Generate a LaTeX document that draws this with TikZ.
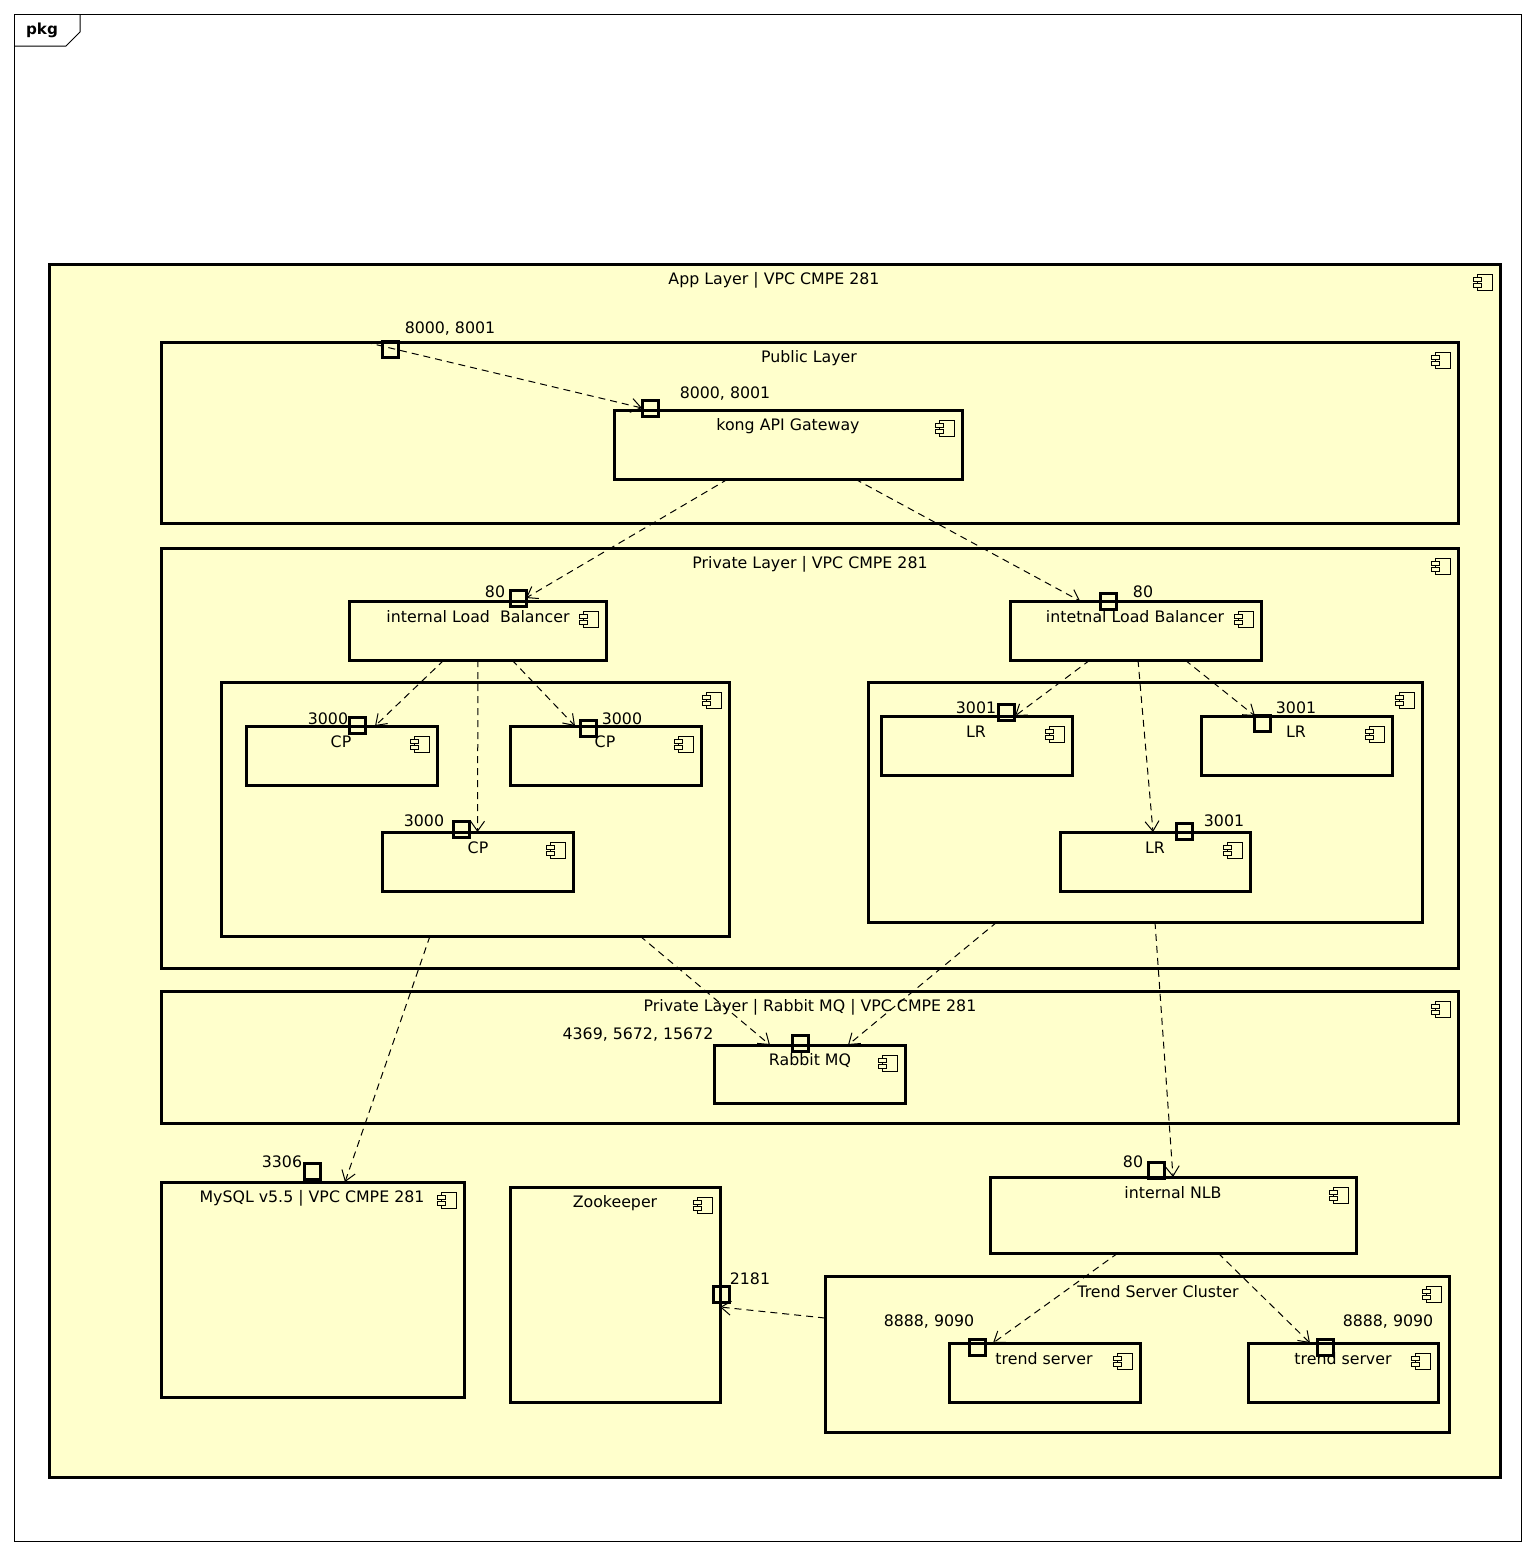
\documentclass[tikz,border=0pt]{standalone}
\usepackage{fontspec}
\setmainfont{DejaVu Sans}
\usetikzlibrary{arrows.meta,fit,calc}
\definecolor{umlfill}{RGB}{255,255,204}

\tikzset{
  x=0.5pt, y=-0.5pt,
  txt/.style={font=\fontsize{7.9}{9}\selectfont, inner sep=0pt, anchor=center},
  cbox/.style={draw, fill=umlfill, line width=1.5pt, inner sep=0pt, outer sep=0pt, rectangle},
  port/.style={draw, line width=1.5pt, minimum size=8pt, inner sep=0pt, outer sep=0pt, rectangle},
  dep/.style={draw, dash pattern=on 3.5pt off 2.5pt, line width=0.5pt,
    -{Straight Barb[length=5pt,width=7pt,line width=0.5pt]}},
  compicon/.pic={
    \draw[line width=0.5pt, fill=umlfill] (-6,-8) rectangle (9,8);
    \draw[line width=0.5pt, fill=umlfill] (-10,-5) rectangle (-2,-1);
    \draw[line width=0.5pt, fill=umlfill] (-10,1) rectangle (-2,5);
  }
}

% component box: name, x1, y1, x2, y2, title x, title
\newcommand\umlcomp[7]{%
  \node[cbox, fit={(#2,#3) (#4,#5)}] (#1) {};
  \pic at (#4-17,#3+18) {compicon};
  \node[txt] (#1-t) at (#6,#3+16) {#7};
}

\begin{document}
\begin{tikzpicture}
\useasboundingbox (0,0) rectangle (1534,1554);
\fill[white] (0,0) rectangle (1534,1554);

% package frame
\node[draw, line width=0.5pt, fit={(14,14) (1521,1541)}, inner sep=0pt, outer sep=0pt] (pkg) {};
\draw[line width=0.5pt] (14,46) -- (66,46) -- (80,32) -- (80,14);
\node[font=\fontsize{7.6}{9}\selectfont\bfseries, inner sep=0pt] (pkg-t) at (42,30) {pkg};

% layers and components
\umlcomp{app}{49}{264}{1500}{1477}{774}{App Layer | VPC CMPE 281}
\umlcomp{pub}{161}{342}{1458}{523}{809}{Public Layer}
\umlcomp{kong}{614}{410}{962}{479}{788}{kong API Gateway}
\umlcomp{priv}{161}{548}{1458}{968}{810}{Private Layer | VPC CMPE 281}
\umlcomp{lbL}{349}{601}{606}{660}{478}{internal Load~~Balancer}
\umlcomp{lbR}{1010}{601}{1261}{660}{1135}{intetnal Load Balancer}
\umlcomp{grpL}{221}{682}{729}{936}{475}{}
\umlcomp{cpa}{246}{726}{437}{785}{341}{CP}
\umlcomp{cpb}{510}{726}{701}{785}{605}{CP}
\umlcomp{cpc}{382}{832}{573}{891}{478}{CP}
\umlcomp{grpR}{868}{682}{1422}{922}{1145}{}
\umlcomp{lra}{881}{716}{1072}{775}{976}{LR}
\umlcomp{lrb}{1201}{716}{1392}{775}{1296}{LR}
\umlcomp{lrc}{1060}{832}{1250}{891}{1155}{LR}
\umlcomp{mql}{161}{991}{1458}{1123}{810}{Private Layer | Rabbit MQ | VPC CMPE 281}
\umlcomp{rmq}{714}{1045}{905}{1103}{810}{Rabbit MQ}
\umlcomp{sql}{161}{1182}{464}{1397}{312}{MySQL v5.5 | VPC CMPE 281}
\umlcomp{zk}{510}{1187}{720}{1402}{615}{Zookeeper}
\umlcomp{nlb}{990}{1177}{1356}{1253}{1173}{internal NLB}
\umlcomp{tsc}{825}{1276}{1449}{1432}{1158}{Trend Server Cluster}
\umlcomp{tsa}{949}{1343}{1140}{1402}{1044}{trend server}
\umlcomp{tsb}{1248}{1343}{1438}{1402}{1343}{trend server}

% ports
\node[port] (p-pub)  at (390,349) {};
\node[port] (p-kong) at (650,408) {};
\node[port] (p-lbL)  at (518,598) {};
\node[port] (p-lbR)  at (1108,601) {};
\node[port] (p-cpa)  at (357,725) {};
\node[port] (p-cpb)  at (588,728) {};
\node[port] (p-cpc)  at (461,829) {};
\node[port] (p-lra)  at (1006,712) {};
\node[port] (p-lrb)  at (1262,723) {};
\node[port] (p-lrc)  at (1184,831) {};
\node[port] (p-rmq)  at (800,1043) {};
\node[port] (p-sql)  at (312,1171) {};
\node[port] (p-zk)   at (721,1294) {};
\node[port] (p-nlb)  at (1156,1170) {};
\node[port] (p-tsa)  at (977,1347) {};
\node[port] (p-tsb)  at (1325,1347) {};

% port labels
\node[txt] (l-pub)  at (450,329)  {8000, 8001};
\node[txt] (l-kong) at (725,394)  {8000, 8001};
\node[txt] (l-lbL)  at (495,592)  {80};
\node[txt] (l-lbR)  at (1143,592) {80};
\node[txt] (l-cpa)  at (328,719)  {3000};
\node[txt] (l-cpb)  at (622,719)  {3000};
\node[txt] (l-cpc)  at (424,821)  {3000};
\node[txt] (l-lra)  at (976,708)  {3001};
\node[txt] (l-lrb)  at (1296,708) {3001};
\node[txt] (l-lrc)  at (1224,821) {3001};
\node[txt] (l-rmq)  at (638,1035) {4369, 5672, 15672};
\node[txt] (l-sql)  at (282,1162) {3306};
\node[txt] (l-zk)   at (750,1279) {2181};
\node[txt] (l-nlb)  at (1133,1162) {80};
\node[txt] (l-tsa)  at (929,1322) {8888, 9090};
\node[txt] (l-tsb)  at (1388,1322) {8888, 9090};

% dependencies
\path[dep] (365,0 |- pub.north) -- (p-kong.west);
\path[dep] (728,0 |- kong.south) -- (p-lbL.east);
\path[dep] (855,0 |- kong.south) -- (1080,0 |- lbR.north);
\path[dep] (444,0 |- lbL.south) -- (375,0 |- cpa.north);
\path[dep] (478,0 |- lbL.south) -- (cpc.north);
\path[dep] (512,0 |- lbL.south) -- (575,0 |- cpb.north);
\path[dep] (1090,0 |- lbR.south) -- (1015,0 |- lra.north);
\path[dep] (1138,0 |- lbR.south) -- (1153,0 |- lrc.north);
\path[dep] (1185,0 |- lbR.south) -- (1255,0 |- lrb.north);
\path[dep] (430,0 |- grpL.south) -- (345,0 |- sql.north);
\path[dep] (640,0 |- grpL.south) -- (770,0 |- rmq.north);
\path[dep] (997,0 |- grpR.south) -- (848,0 |- rmq.north);
\path[dep] (1155,0 |- grpR.south) -- (1173,0 |- nlb.north);
\path[dep] (1118,0 |- nlb.south) -- (993,0 |- tsa.north);
\path[dep] (1218,0 |- nlb.south) -- (1310,0 |- tsb.north);
\path[dep] (tsc.west |- 0,1318) -- (zk.east |- 0,1307);
\end{tikzpicture}
\end{document}
